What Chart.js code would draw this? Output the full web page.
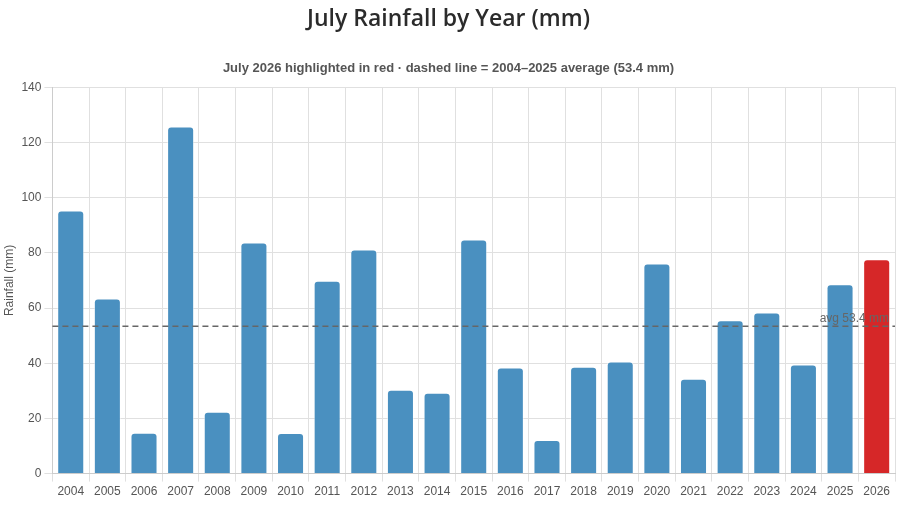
<!DOCTYPE html>
<html>
<head>
<meta charset="utf-8">
<script src="https://cdn.jsdelivr.net/npm/chart.js@4"></script>
<style>
html,body{margin:0;padding:0;background:#fff;}
#wrap{width:899px;height:506px;}
</style>
</head>
<body>
<div id="wrap"><canvas id="c"></canvas></div>
<script>
const years = ["2004","2005","2006","2007","2008","2009","2010","2011","2012","2013","2014","2015","2016","2017","2018","2019","2020","2021","2022","2023","2024","2025","2026"];
const rainfall = [95.3,63.4,14.8,125.8,22.4,83.7,14.7,69.9,81.2,30.4,29.3,84.8,38.4,12.2,38.7,40.6,76.1,34.4,55.6,58.4,39.5,68.6,77.7];
const highlightYear = "2026";
const average = 53.4;
const yTicks = {min:0, max:140, step:20};

const blue = '#4a90c0', red = '#d62728';
const avgLine = {
  id:'avgLine',
  afterDatasetsDraw(chart){
    const {ctx, chartArea, scales} = chart;
    const y = scales.y.getPixelForValue(average);
    ctx.save();
    ctx.strokeStyle = '#666';
    ctx.lineWidth = 1.5;
    ctx.setLineDash([6,4]);
    ctx.beginPath();
    ctx.moveTo(chartArea.left, y);
    ctx.lineTo(chartArea.right, y);
    ctx.stroke();
    ctx.setLineDash([]);
    ctx.fillStyle = '#666';
    ctx.font = '12px "Liberation Sans", Arial, sans-serif';
    ctx.textAlign = 'right';
    ctx.textBaseline = 'bottom';
    ctx.fillText('avg ' + average.toFixed(1) + ' mm', chartArea.right - 6, y - 2);
    ctx.restore();
  }
};

new Chart(document.getElementById('c'), {
  type:'bar',
  data:{
    labels: years,
    datasets:[{
      data: rainfall,
      backgroundColor: years.map(y => y === highlightYear ? red : blue),
      borderColor: 'rgba(255,255,255,0.5)',
      borderWidth: 1,
      borderRadius: 4,
      borderSkipped: 'bottom',
      categoryPercentage: 0.9,
      barPercentage: 0.82
    }]
  },
  options:{
    responsive:true,
    maintainAspectRatio:false,
    animation:false,
    layout:{padding:{left:2,right:4,top:0,bottom:4}},
    plugins:{
      legend:{display:false},
      tooltip:{enabled:false},
      title:{
        display:true,
        text:'July Rainfall by Year (mm)',
        color:'#2b2b2b',
        font:{family:'"Open Sans", "Noto Sans", sans-serif', size:23, weight:'600'},
        padding:{top:6,bottom:27}
      },
      subtitle:{
        display:true,
        text:'July 2026 highlighted in red · dashed line = 2004–2025 average (53.4 mm)',
        color:'#555',
        font:{family:'"Liberation Sans", Arial, sans-serif', size:13, weight:'bold'},
        padding:{top:0,bottom:11}
      }
    },
    scales:{
      x:{
        grid:{color:'#e0e0e0', offset:true, drawTicks:true, tickLength:8},
        border:{color:'#ccc'},
        ticks:{color:'#555', font:{family:'"Liberation Sans", Arial, sans-serif', size:12}}
      },
      y:{
        min:yTicks.min, max:yTicks.max,
        grid:{color:'#e0e0e0', tickLength:8},
        border:{color:'#ccc'},
        ticks:{stepSize:yTicks.step, color:'#555', font:{family:'"Liberation Sans", Arial, sans-serif', size:12}},
        title:{display:true, text:'Rainfall (mm)', color:'#555', font:{family:'"Liberation Sans", Arial, sans-serif', size:12}, padding:{top:0,bottom:2}}
      }
    }
  },
  plugins:[avgLine]
});
</script>
</body>
</html>
